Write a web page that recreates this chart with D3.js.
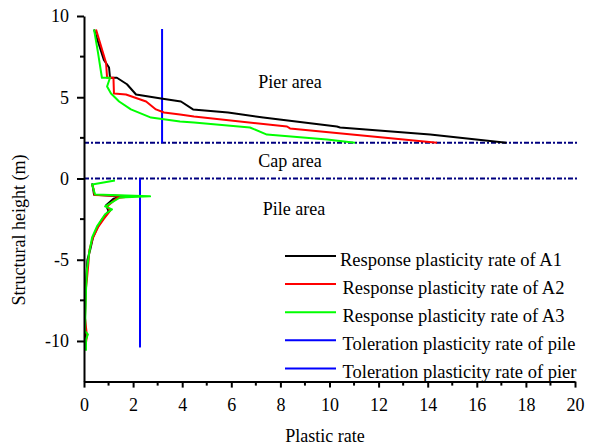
<!DOCTYPE html>
<html>
<head>
<meta charset="utf-8">
<script src="https://cdn.jsdelivr.net/npm/d3@7"></script>
<style>
  body { margin: 0; background: #fff; }
  svg text { font-family: "Liberation Serif", "Times New Roman", serif; fill: #000; }
</style>
</head>
<body>
<svg id="chart" width="592" height="447"></svg>
<script>
// Pier area curves [plastic rate, height]
const pierA1 = [[0.41, 9.17], [0.81, 7.3], [1.02, 6.83], [1.06, 6.2], [1.34, 6.2], [1.75, 5.8], [2.12, 5.17],
  [3.14, 4.92], [3.95, 4.74], [4.44, 4.25], [5.87, 4.06], [7.3, 3.75], [10.3, 3.2], [10.43, 3.14],
  [14.1, 2.7], [17.2, 2.2]];
const pierA2 = [[0.49, 9.17], [0.9, 7.1], [0.94, 6.2], [1.2, 6.2], [1.22, 5.23], [1.71, 5.17], [2.53, 4.74],
  [2.93, 4.25], [3.26, 4.06], [3.91, 3.94], [4.48, 3.82], [8.27, 3.2], [8.39, 3.08], [14.38, 2.2]];
const pierA3 = [[0.41, 9.17], [0.57, 7.75], [0.73, 6.2], [1.06, 6.2], [0.94, 5.66], [1.1, 5.23], [1.43, 4.74],
  [1.91, 4.25], [2.73, 3.75], [3.91, 3.51], [4.48, 3.45], [6.76, 3.14], [7.45, 2.7], [9.9, 2.4], [11.04, 2.2]];

// Pile area curves
const pileA1 = [[0.33, -0.3], [0.37, -0.6], [0.41, -1.0], [1.55, -1.1], [1.2, -1.25], [0.9, -1.65], [1.0, -2.0],
  [0.75, -2.5], [0.55, -3.0], [0.37, -3.6], [0.25, -4.4], [0.14, -5.0], [0.1, -6.0], [0.06, -7.0],
  [0.04, -8.5], [0.06, -9.5], [0.08, -10.2]];
const pileA2 = [[0.33, -0.35], [0.39, -0.65], [0.43, -1.02], [1.96, -1.1], [1.35, -1.2], [0.95, -1.7], [1.06, -2.0],
  [0.8, -2.5], [0.57, -3.0], [0.35, -3.7], [0.22, -4.4], [0.18, -5.2], [0.12, -6.2], [0.06, -7.0],
  [0.04, -8.6], [0.12, -9.7], [0.06, -10.3]];
const pileA3 = [[1.26, -0.12], [0.33, -0.37], [0.45, -0.98], [2.69, -1.1], [1.47, -1.17], [0.86, -1.72],
  [1.14, -1.9], [0.86, -2.2], [0.53, -2.95], [0.33, -3.63], [0.2, -4.68], [0.12, -5.6], [0.08, -6.95],
  [0.04, -9.4], [0.16, -9.6], [0.08, -9.9], [0.08, -10.6]];

// Toleration lines and area boundaries
const pierTolerance = { x: 3.18, y0: 2.2, y1: 9.2 };
const pileTolerance = { x: 2.28, y0: 0, y1: -10.4 };
const boundaries = [2.2, 0];
const areaLabels = [
  { text: "Pier area", x: 8.39, y: 5.57 },
  { text: "Cap area", x: 8.39, y: 0.71 },
  { text: "Pile area", x: 8.55, y: -2.25 }
];

const xTicks = d3.range(0, 21, 2);
const xMinor = d3.range(1, 20, 2);
const yTicks = [10, 5, 0, -5, -10];
const yMinor = [7.5, 2.5, -2.5, -7.5];

const series = [
  { name: "Response plasticity rate of A1", color: "#000000", data: [pierA1, pileA1] },
  { name: "Response plasticity rate of A2", color: "#ff0000", data: [pierA2, pileA2] },
  { name: "Response plasticity rate of A3", color: "#00ff00", data: [pierA3, pileA3] },
  { name: "Toleration plasticity rate of pile", color: "#0000ff", data: [] },
  { name: "Toleration plasticity rate of pier", color: "#0000ff", data: [] }
];

const svg = d3.select("#chart");

const xScale = d3.scaleLinear().domain([0, 20]).range([84, 575]);
const yScale = d3.scaleLinear().domain([-12.5, 10]).range([381.6, 16]);

// Boundaries
svg.selectAll(".boundary")
  .data(boundaries)
  .join("line")
  .attr("class", "boundary")
  .attr("x1", xScale(0))
  .attr("x2", xScale(20.1))
  .attr("y1", (d) => yScale(d))
  .attr("y2", (d) => yScale(d))
  .style("stroke", "#000080")
  .style("stroke-width", 2)
  .style("stroke-dasharray", "5,2,2,2");

// Tolerance lines
[pierTolerance, pileTolerance].forEach((t) => {
  svg.append("line")
    .attr("x1", xScale(t.x))
    .attr("x2", xScale(t.x))
    .attr("y1", yScale(t.y0))
    .attr("y2", yScale(t.y1))
    .style("stroke", "#0000ff")
    .style("stroke-width", 2);
});

// Curves
const line = d3.line()
  .x((d) => xScale(d[0]))
  .y((d) => yScale(d[1]));

series.forEach((s) => {
  s.data.forEach((pts) => {
    svg.append("path")
      .attr("d", line(pts))
      .style("fill", "none")
      .style("stroke", s.color)
      .style("stroke-width", 2)
      .style("stroke-linejoin", "round");
  });
});

// Axes (plain hyphen for negatives)
const plain = (d) => String(d);
const xAxis = d3.axisBottom(xScale).tickValues(xTicks).tickFormat(plain)
  .tickSize(6).tickPadding(11).tickSizeOuter(0);
const yAxis = d3.axisLeft(yScale).tickValues(yTicks).tickFormat(plain)
  .tickSize(7).tickPadding(8).tickSizeOuter(0);

const gx = svg.append("g").attr("transform", `translate(0,${yScale(-12.5)})`).call(xAxis);
const gy = svg.append("g").attr("transform", `translate(${xScale(0)},0)`).call(yAxis);

[gx, gy].forEach((g) => {
  g.attr("font-family", null).attr("font-size", 18);
  g.select(".domain").style("stroke", "#000").style("stroke-width", 2);
  g.selectAll(".tick line").style("stroke", "#000").style("stroke-width", 2);
});

gx.selectAll(".minor")
  .data(xMinor)
  .join("line")
  .attr("class", "minor")
  .attr("x1", (d) => xScale(d))
  .attr("x2", (d) => xScale(d))
  .attr("y1", 0)
  .attr("y2", 4)
  .style("stroke", "#000")
  .style("stroke-width", 2);

gy.selectAll(".minor")
  .data(yMinor)
  .join("line")
  .attr("class", "minor")
  .attr("y1", (d) => yScale(d))
  .attr("y2", (d) => yScale(d))
  .attr("x1", 0)
  .attr("x2", -4)
  .style("stroke", "#000")
  .style("stroke-width", 2);

// Axis titles
svg.append("text")
  .attr("x", 325)
  .attr("y", 442)
  .attr("text-anchor", "middle")
  .attr("font-size", 18)
  .text("Plastic rate");

svg.append("text")
  .attr("transform", "translate(25,230) rotate(-90)")
  .attr("text-anchor", "middle")
  .attr("font-size", 18)
  .text("Structural height (m)");

// Area labels
svg.selectAll(".area-label")
  .data(areaLabels)
  .join("text")
  .attr("class", "area-label")
  .attr("x", (d) => xScale(d.x))
  .attr("y", (d) => yScale(d.y))
  .attr("text-anchor", "middle")
  .attr("font-size", 18)
  .text((d) => d.text);

// Legend
const legend = svg.append("g").attr("transform", "translate(285,256)");
const rows = legend.selectAll("g")
  .data(series)
  .join("g")
  .attr("transform", (d, i) => `translate(0,${i * 28.1})`);

rows.append("line")
  .attr("x1", 0)
  .attr("x2", 51)
  .attr("y1", 0)
  .attr("y2", 0)
  .style("stroke", (d) => d.color)
  .style("stroke-width", 2);

rows.append("text")
  .attr("x", (d, i) => (i === 0 ? 55 : 57.5))
  .attr("y", 9.5)
  .attr("font-size", 18.5)
  .text((d) => d.name);
</script>
</body>
</html>
